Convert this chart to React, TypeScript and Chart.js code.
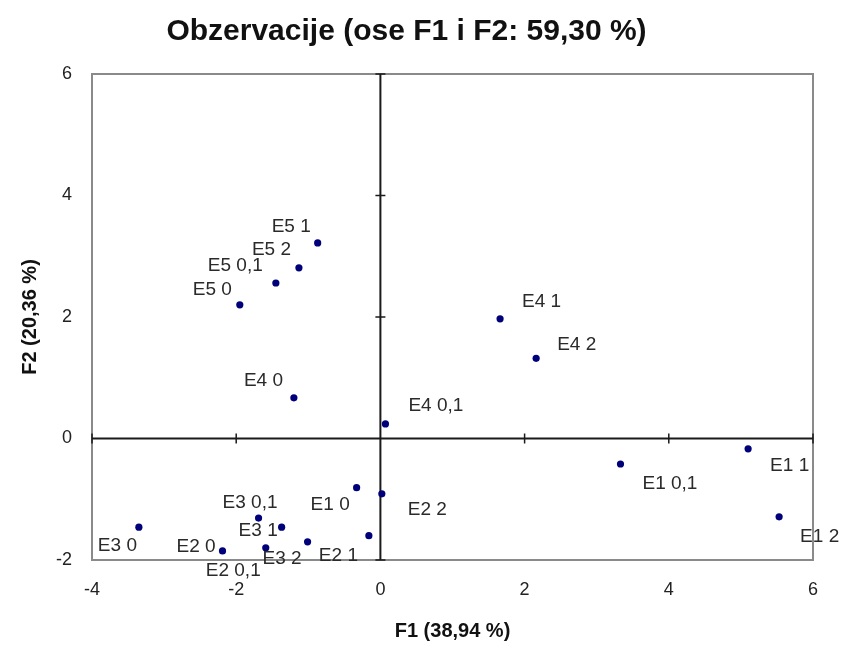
import React, { useEffect, useRef } from "react";
import { Chart, registerables } from "chart.js";

Chart.register(...registerables);

// ---- data ----
const obsLabels = [
  "E1 0", "E1 0,1", "E1 1", "E1 2",
  "E2 0", "E2 0,1", "E2 1", "E2 2",
  "E3 0", "E3 0,1", "E3 1", "E3 2",
  "E4 0", "E4 0,1", "E4 1", "E4 2",
  "E5 0", "E5 0,1", "E5 1", "E5 2",
];
const f1Values = [
  -0.33, 3.33, 5.10, 5.53,
  -2.19, -1.59, -0.16, 0.02,
  -3.35, -1.69, -1.37, -1.01,
  -1.20, 0.07, 1.66, 2.16,
  -1.95, -1.45, -0.87, -1.13,
];
const f2Values = [
  -0.81, -0.42, -0.17, -1.29,
  -1.85, -1.80, -1.60, -0.91,
  -1.46, -1.31, -1.46, -1.70,
  0.67, 0.24, 1.97, 1.32,
  2.20, 2.56, 3.22, 2.81,
];
const xTickValues = [-4, -2, 0, 2, 4, 6];
const yTickValues = [-2, 0, 2, 4, 6];

const titleText = "Obzervacije (ose F1 i F2: 59,30 %)";
const xTitle = "F1 (38,94 %)";
const yTitle = "F2 (20,36 %)";

// ---- label placement (pixel offset of text left edge from its point) ----
const labelOffsets: Record<string, [number, number]> = {
  "E5 1": [-46, -16],
  "E5 2": [-47, -18],
  "E5 0,1": [-68, -17],
  "E5 0": [-47, -15],
  "E4 0": [-50, -17],
  "E4 1": [22, -17],
  "E4 2": [21, -14],
  "E4 0,1": [23, -18],
  "E1 1": [22, 17],
  "E1 0,1": [22, 20],
  "E1 2": [21, 20],
  "E2 2": [26, 16],
  "E1 0": [-46, 17],
  "E3 0,1": [-36, -15],
  "E3 1": [-43, 4],
  "E3 0": [-41, 19],
  "E2 0": [-46, -4],
  "E3 2": [-45, 17],
  "E2 1": [-50, 20],
  "E2 0,1": [-60, 23],
};

const SANS = "'Liberation Sans', Arial, sans-serif";

const framePlugin = {
  id: "frameAndTicks",
  beforeDatasetsDraw(chart: any) {
    const { ctx, chartArea } = chart;
    const xs = chart.scales.x;
    const ys = chart.scales.y;
    ctx.save();
    ctx.strokeStyle = "#8a8a8a";
    ctx.lineWidth = 2;
    ctx.strokeRect(chartArea.left, chartArea.top, chartArea.right - chartArea.left, chartArea.bottom - chartArea.top);
    // zero axes
    const x0 = xs.getPixelForValue(0);
    const y0 = ys.getPixelForValue(0);
    ctx.strokeStyle = "#1a1a1a";
    ctx.lineWidth = 2;
    ctx.beginPath();
    ctx.moveTo(chartArea.left, y0);
    ctx.lineTo(chartArea.right, y0);
    ctx.moveTo(x0, chartArea.top);
    ctx.lineTo(x0, chartArea.bottom);
    ctx.stroke();
    ctx.lineWidth = 1.5;
    ctx.beginPath();
    xTickValues.forEach((v) => {
      if (v === 0) return;
      const px = xs.getPixelForValue(v);
      ctx.moveTo(px, y0 - 5);
      ctx.lineTo(px, y0 + 5);
    });
    yTickValues.forEach((v) => {
      if (v === 0) return;
      const py = ys.getPixelForValue(v);
      ctx.moveTo(x0 - 5, py);
      ctx.lineTo(x0 + 5, py);
    });
    ctx.stroke();
    ctx.restore();
  },
  afterDatasetsDraw(chart: any) {
    const { ctx } = chart;
    const meta = chart.getDatasetMeta(0);
    ctx.save();
    ctx.font = `19px ${SANS}`;
    ctx.fillStyle = "#2a2a2a";
    ctx.textAlign = "left";
    ctx.textBaseline = "middle";
    meta.data.forEach((el: any, i: number) => {
      const name = obsLabels[i];
      const off = labelOffsets[name] || [6, -12];
      ctx.fillText(name, el.x + off[0], el.y + off[1]);
    });
    ctx.restore();
  },
};

export default function App() {
  const ref = useRef<HTMLCanvasElement | null>(null);
  useEffect(() => {
    if (!ref.current) return;
    const points = f1Values.map((x, i) => ({ x, y: f2Values[i] }));
    const chart = new Chart(ref.current, {
      type: "scatter",
      data: {
        datasets: [
          {
            label: "Obzervacije",
            data: points,
            backgroundColor: "#00007a",
            borderWidth: 0,
            pointRadius: 3.6,
            pointHoverRadius: 3.6,
          },
        ],
      },
      options: {
        animation: false,
        responsive: false,
        devicePixelRatio: 1,
        layout: { padding: { left: 0, right: 30, top: 0, bottom: 0 } },
        plugins: {
          legend: { display: false },
          tooltip: { enabled: false },
          title: {
            display: true,
            text: titleText,
            color: "#111",
            font: { family: SANS, size: 30, weight: "bold", lineHeight: 1.2 },
            padding: { top: 14, bottom: 24 },
          },
        },
        scales: {
          x: {
            type: "linear",
            min: -4,
            max: 6,
            afterBuildTicks: (s: any) => {
              s.ticks = xTickValues.map((v) => ({ value: v }));
            },
            afterFit: (s: any) => {
              s.height = 92;
            },
            ticks: {
              font: { family: SANS, size: 18 },
              color: "#222",
              padding: 19,
              callback: (v: any) => String(v),
            },
            grid: { display: false, drawTicks: false },
            border: { display: false },
            title: {
              display: true,
              text: xTitle,
              color: "#111",
              font: { family: SANS, size: 20, weight: "bold", lineHeight: 1.2 },
              padding: { top: 0, bottom: 9 },
            },
          },
          y: {
            type: "linear",
            min: -2,
            max: 6,
            afterBuildTicks: (s: any) => {
              s.ticks = yTickValues.map((v) => ({ value: v }));
            },
            afterFit: (s: any) => {
              s.width = 92;
            },
            ticks: {
              font: { family: SANS, size: 18 },
              color: "#222",
              padding: 20,
              callback: (v: any) => String(v),
            },
            grid: { display: false, drawTicks: false },
            border: { display: false },
            title: {
              display: true,
              text: yTitle,
              color: "#111",
              font: { family: SANS, size: 20, weight: "bold", lineHeight: 1.2 },
              padding: { top: 18, bottom: 0 },
            },
          },
        },
      },
      plugins: [framePlugin],
    });
    return () => chart.destroy();
  }, []);
  return (
    <div style={{ position: "fixed", left: 0, top: 0, width: 843, height: 652, background: "#fff" }}>
      <canvas ref={ref} width={843} height={652} style={{ width: 843, height: 652 }} />
    </div>
  );
}
